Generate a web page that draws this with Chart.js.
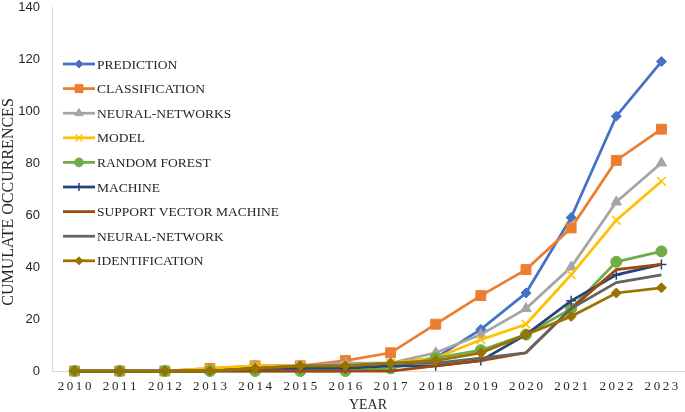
<!DOCTYPE html>
<html>
<head>
<meta charset="utf-8">
<script src="https://cdn.jsdelivr.net/npm/chart.js@4"></script>
<style>
  html, body { margin: 0; padding: 0; background: #fff; }
  #wrap { width: 685px; height: 412px; position: relative; }
</style>
</head>
<body>
<div id="wrap"><canvas id="chart"></canvas></div>
<script>
const YEARS = ["2010", "2011", "2012", "2013", "2014", "2015", "2016", "2017", "2018", "2019", "2020", "2021", "2022", "2023"];

const PREDICTION = [0, 0, 0, 0, 1, 1, 2, 3, 5, 16, 30, 59, 98, 119];
const CLASSIFICATION = [0, 0, 0, 1, 2, 2, 4, 7, 18, 29, 39, 55, 81, 93];
const NEURAL_NETWORKS = [0, 0, 0, 0, 2, 2, 3, 3, 7, 14, 24, 40, 65, 80];
const MODEL = [0, 0, 0, 1, 2, 2, 2, 3, 5, 12, 18, 37, 58, 73];
const RANDOM_FOREST = [0, 0, 0, 0, 0, 0, 0, 1, 5, 8, 14, 24, 42, 46];
const MACHINE = [0, 0, 0, 0, 1, 1, 1, 2, 2, 4, 14, 27, 37, 41];
const SVM = [0, 0, 0, 0, 0, 0, 0, 0, 2, 4, 7, 24, 39, 41];
const NEURAL_NETWORK = [0, 0, 0, 0, 1, 2, 2, 3, 3, 5, 7, 24, 34, 37];
const IDENTIFICATION = [0, 0, 0, 0, 1, 2, 2, 3, 4, 7, 14, 21, 30, 32];

const Y_MAX = 140;
const Y_STEP = 20;

const TEXT = "#262626";
const AXIS_LINE = "#d9d9d9";
const SERIF = '"Liberation Serif", "Times New Roman", serif';
const SANS = '"Liberation Sans", Arial, sans-serif';

// label, data, colour, marker, marker radius
const SERIES = [
  ["PREDICTION", PREDICTION, "#4472c4", "rectRot", 5],
  ["CLASSIFICATION", CLASSIFICATION, "#ed7d31", "rect", 7],
  ["NEURAL-NETWORKS", NEURAL_NETWORKS, "#a5a5a5", "triangle", 6],
  ["MODEL", MODEL, "#ffc000", "crossRot", 6],
  ["RANDOM FOREST", RANDOM_FOREST, "#70ad47", "circle", 5.5],
  ["MACHINE", MACHINE, "#264478", "cross", 5],
  ["SUPPORT VECTOR MACHINE", SVM, "#9e480e", false, 0],
  ["NEURAL-NETWORK", NEURAL_NETWORK, "#636363", false, 0],
  ["IDENTIFICATION", IDENTIFICATION, "#997300", "rectRot", 5],
];

const datasets = SERIES.map(([label, data, color, style, r], i) => ({
  label,
  data,
  borderColor: color,
  backgroundColor: color,
  borderWidth: 2.75,
  pointStyle: style,
  pointRadius: r,
  pointHoverRadius: r,
  pointBorderWidth: style === "cross" || style === "crossRot" ? 1.5 : 1,
  pointBackgroundColor: color,
  pointBorderColor: color,
  tension: 0,
  clip: false,
  order: SERIES.length - 1 - i,
}));

// legend inside the plot, one item per row
const insideLegend = {
  id: "insideLegend",
  afterDraw(chart) {
    const { ctx } = chart;
    const drawPoint = Chart.helpers && Chart.helpers.drawPoint;
    ctx.save();
    SERIES.forEach(([label, , color, style, r], i) => {
      const y = 64 + i * 24.6;
      ctx.strokeStyle = color;
      ctx.lineWidth = 2.75;
      ctx.beginPath();
      ctx.moveTo(63, y);
      ctx.lineTo(95, y);
      ctx.stroke();
      if (style && drawPoint) {
        ctx.fillStyle = color;
        ctx.lineWidth = style === "cross" || style === "crossRot" ? 1.5 : 1;
        drawPoint(ctx, { pointStyle: style, radius: r * 0.8, rotation: 0, borderWidth: ctx.lineWidth }, 79, y);
      }
      ctx.fillStyle = TEXT;
      ctx.font = "13.5px " + SERIF;
      ctx.textAlign = "left";
      ctx.textBaseline = "middle";
      ctx.fillText(label, 97, y + 1);
    });
    ctx.restore();
  },
};

const axisTitles = {
  id: "axisTitles",
  afterDraw(chart) {
    const { ctx } = chart;
    ctx.save();
    ctx.fillStyle = TEXT;
    ctx.textAlign = "center";
    ctx.textBaseline = "middle";
    ctx.font = "16px " + SERIF;
    ctx.translate(9, 202);
    ctx.rotate(-Math.PI / 2);
    ctx.fillText("CUMULATE OCCURRENCES", 0, 0);
    ctx.restore();
    ctx.save();
    ctx.fillStyle = TEXT;
    ctx.textAlign = "center";
    ctx.textBaseline = "middle";
    ctx.font = "14px " + SERIF;
    ctx.fillText("YEAR", 368, 405);
    ctx.restore();
  },
};

new Chart(document.getElementById("chart"), {
  type: "line",
  data: { labels: YEARS, datasets },
  options: {
    responsive: true,
    maintainAspectRatio: false,
    animation: false,
    layout: { autoPadding: false, padding: { top: 7, right: 1, left: 0, bottom: 0 } },
    plugins: {
      legend: { display: false },
      tooltip: { enabled: false },
    },
    scales: {
      x: {
        type: "category",
        offset: true,
        grid: { display: false, drawTicks: false },
        border: { display: true, color: AXIS_LINE, width: 1 },
        ticks: {
          color: TEXT,
          font: { family: SERIF, size: 13 },
          padding: 8,
          maxRotation: 0,
          autoSkip: false,
          callback(value) {
            return this.getLabelForValue(value).split("").join("\u2009");
          },
        },
        afterFit(scale) {
          scale.height = 41;
          scale.paddingLeft = 0;
          scale.paddingRight = 0;
        },
      },
      y: {
        min: 0,
        max: Y_MAX,
        grid: { display: false, drawTicks: false },
        border: { display: true, color: AXIS_LINE, width: 1 },
        ticks: {
          stepSize: Y_STEP,
          color: TEXT,
          font: { family: SANS, size: 13 },
          padding: 12,
        },
        afterFit(scale) {
          scale.width = 52;
          scale.paddingTop = 0;
          scale.paddingBottom = 0;
        },
      },
    },
  },
  plugins: [insideLegend, axisTitles],
});
</script>
</body>
</html>
